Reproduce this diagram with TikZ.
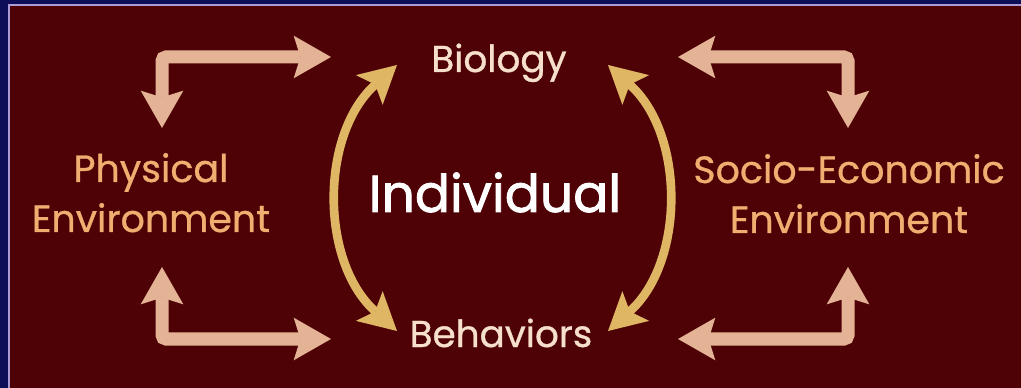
\documentclass[tikz,border=0pt]{standalone}
\usepackage{fontspec}
\setmainfont{Poppins}
\newfontfamily\labelfont{Poppins}[FakeBold=0.8]
\newfontfamily\corefont{Poppins}[FakeBold=1.6]
\usepackage{xcolor}
\usetikzlibrary{arrows.meta}

\definecolor{maroonbg}{RGB}{78,2,6}
\definecolor{navyrim}{RGB}{14,14,88}
\definecolor{lilac}{RGB}{172,156,214}
\definecolor{tanarrow}{RGB}{228,178,148}
\definecolor{goldarrow}{RGB}{222,182,100}
\definecolor{peachtext}{RGB}{242,174,112}
\definecolor{creamtext}{RGB}{246,224,204}

\tikzset{
  tantip/.tip={Stealth[length=28pt,width=32pt,inset=5pt,line width=0pt]},
  goldtip/.tip={Stealth[length=28pt,width=30pt,inset=6pt,line width=0pt]},
  elbow/.style={draw=tanarrow,line width=9.75pt,rounded corners=3pt,tantip-tantip},
  swing/.style={draw=goldarrow,line width=6.5pt,goldtip-goldtip},
  envlabel/.style={text=peachtext,font=\labelfont\fontsize{28.5}{37.5}\selectfont,align=center,anchor=base,inner sep=0.75pt},
  corelabel/.style={text=creamtext,font=\labelfont\fontsize{28}{36}\selectfont,anchor=base,inner sep=0.75pt}
}

\begin{document}
\begin{tikzpicture}[x=0.75pt,y=0.75pt,yscale=-1,xscale=1]

\useasboundingbox (0,0) rectangle (1021,388);
\fill [navyrim] (0,0) rectangle (1021,388);
\fill [maroonbg] (9,5) rectangle (1030,400);
\draw [lilac,line width=1.5pt] (9,400) -- (9,5) -- (1030,5);

% labels (base = last line)
\draw (151,232) node (phys) [envlabel] {Physical\\Environment};
\draw (849,233) node (socio) [envlabel] {Socio-Economic\\Environment};
\draw (499,72) node (bio) [corelabel] {Biology};
\draw (501,347) node (behav) [corelabel] {Behaviors};
\draw (495,212) node (indiv) [anchor=base,inner sep=0.75pt,text=white,font=\corefont\fontsize{39}{48}\selectfont] {Individual};

% arrow ends
\coordinate (pe-top) at (162,128);
\coordinate (pe-bot) at (162,267);
\coordinate (se-top) at (848,128);
\coordinate (se-bot) at (848,267);
\coordinate (bio-tl) at (331,57);
\coordinate (bio-tr) at (678,57);
\coordinate (beh-tl) at (331,339);
\coordinate (beh-tr) at (678,339);
\coordinate (bio-gl) at (397,65);
\coordinate (bio-gr) at (608,65);
\coordinate (beh-gl) at (397,331);
\coordinate (beh-gr) at (608,331);

% tan elbows
\draw [elbow] (bio-tl) -| (pe-top);
\draw [elbow] (pe-bot) |- (beh-tl);
\draw [elbow] (bio-tr) -| (se-top);
\draw [elbow] (beh-tr) -| (se-bot);

% gold arcs
\draw [swing] (bio-gl) to [bend left=48] (beh-gl);
\draw [swing] (bio-gr) to [bend right=48] (beh-gr);

\end{tikzpicture}
\end{document}
